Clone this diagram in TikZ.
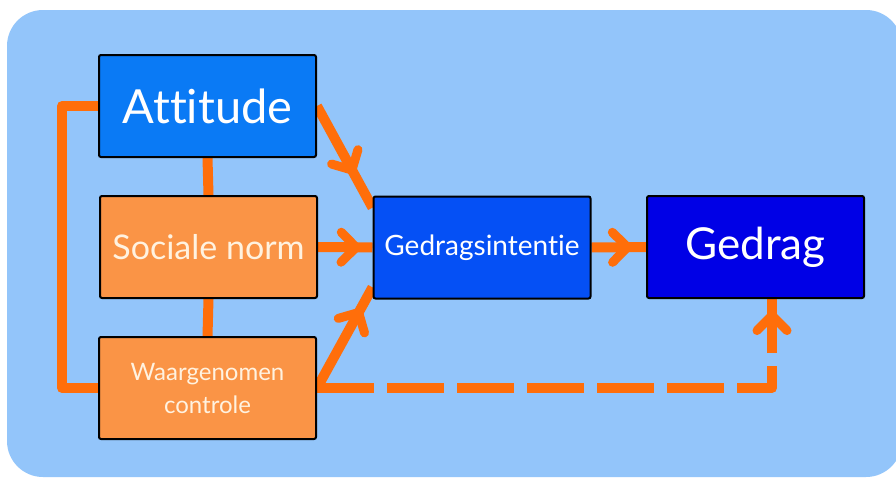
\documentclass[tikz,border=0pt]{standalone}
\usepackage{fontspec}
\setmainfont{Lato}[Ligatures={NoCommon}]
\usetikzlibrary{decorations.markings}
\pgfdeclarelayer{bg}
\pgfdeclarelayer{lines}
\pgfsetlayers{bg,lines,main}
\definecolor{bgblue}{RGB}{147,197,250}
\definecolor{attblue}{RGB}{10,122,245}
\definecolor{giblue}{RGB}{5,80,245}
\definecolor{gedblue}{RGB}{0,0,230}
\definecolor{boxorange}{RGB}{250,148,70}
\definecolor{lineorange}{RGB}{255,110,10}
\definecolor{cream}{RGB}{255,242,224}
\tikzset{
  box/.style={draw=black, line width=2pt, rounded corners=2pt, minimum width=217pt, minimum height=102pt, inner sep=0pt, align=center},
  conn/.style={draw=lineorange, line width=10pt, line join=round},
  dashconn/.style={conn, dash pattern=on 57pt off 13pt},
  chev/.style={postaction={decorate, decoration={markings, mark=at position #1 with {\draw[solid, line width=9pt, line cap=round, line join=round, lineorange] (-15pt,15pt) -- (0pt,0pt) -- (-15pt,-15pt);}}}}
}
\begin{document}
\begin{tikzpicture}[x=1pt, y=-1pt]
\useasboundingbox (0,0) rectangle (896,479);
\begin{pgfonlayer}{bg}
\fill[white] (0,0) rectangle (896,479);
\fill[bgblue, rounded corners=36pt] (7,10) rectangle (902,477);
\end{pgfonlayer}

\node[box, fill=attblue, text=white, font=\fontsize{47}{52}\selectfont] (att) at (207.5,106) {Attitude};
\node[box, fill=boxorange, text=cream, font=\fontsize{34}{38}\selectfont] (soc) at (208.5,247) {Sociale norm};
\node[box, fill=boxorange, text=cream, font=\fontsize{24}{33}\selectfont] (waar) at (207.5,388) {Waargenomen\\controle};
\node[box, fill=giblue, text=white, font=\fontsize{28}{32}\selectfont] (gi) at (482,247.5) {Gedragsintentie};
\node[box, fill=gedblue, text=white, font=\fontsize{44}{50}\selectfont] (ged) at (755.5,247) {Gedrag};

\coordinate (bus) at (62,0);
\coordinate (dc) at (772,345);

\begin{pgfonlayer}{lines}
\draw[conn] (att.west) -| (bus |- waar.west) -- (waar.west);
\draw[conn] (att.south) -- (soc.north);
\draw[conn] (soc.south) -- (waar.north);

\draw[conn, chev=0.63] (att.east) -- (gi.160);
\draw[conn, chev=0.70] (soc.east) -- (gi.west);
\draw[conn, chev=0.75] (waar.east) -- (gi.200);
\draw[conn, chev=0.66] (gi.east) -- (ged.west);

\draw[dashconn] (waar.east) -| (dc);
\draw[conn, chev=0.64] (dc) -- (ged.south -| dc);
\end{pgfonlayer}
\end{tikzpicture}
\end{document}
